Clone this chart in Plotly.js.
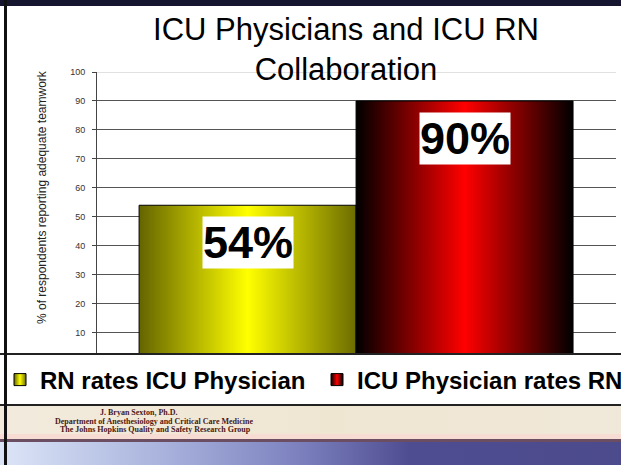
<!DOCTYPE html>
<html><head><meta charset="utf-8">
<script src="https://cdn.plot.ly/plotly-3.0.1.min.js"></script>
<style>
html,body{margin:0;padding:0;width:621px;height:465px;overflow:hidden;background:#fff;}
#wrap{position:relative;width:660px;height:465px;}
.band{position:absolute;left:0;right:0;}
#chart{position:absolute;left:0;top:0;width:660px;height:465px;}
</style></head><body>
<div id="wrap">
 <div class="band" style="top:0;height:6px;background:#15152f"></div>
 <div class="band" style="top:353px;height:2px;background:#222"></div>
 <div class="band" style="top:404px;height:2px;background:#222"></div>
 <div class="band" style="top:406px;height:28px;background:linear-gradient(90deg,#f2eadc,#efe6d2 50%,#f0e8da)"></div>
 <div class="band" style="top:434px;height:5px;background:#f6dcd2"></div>
 <div class="band" style="top:439px;height:3px;background:#6c4e62"></div>
 <div class="band" style="top:442px;height:23px;background:linear-gradient(90deg,#dce5f7 0%,#a8b2dc 25%,#7d82bf 45%,#4f4d92 62%,#4b4a8b 100%)"></div>
 <div style="position:absolute;left:4px;top:0;width:3px;height:465px;background:#111"></div>
 <div id="chart"></div>
</div>
<script>
// ---- data ----
const seriesNames = ['RN rates ICU Physician', 'ICU Physician rates RN'];
const values = [54, 90];
const valueLabels = ['54%', '90%'];
const yTicks = [10, 20, 30, 40, 50, 60, 70, 80, 90, 100];
const yTitle = '% of respondents reporting adequate teamwork';
const chartTitle = 'ICU Physicians and ICU RN<br>Collaboration';
const footerLines = ['J. Bryan Sexton, Ph.D.', 'Department of Anesthesiology and Critical Care Medicine', 'The Johns Hopkins Quality and Safety Research Group'];

const baseColors = ['#e0e000', '#e00000'];
const gradStops = [
  [['0', '#646400'], ['0.5', '#ffff00'], ['1', '#6c6c00']],
  [['0', '#000000'], ['0.5', '#ff0000'], ['1', '#000000']]
];

const W = 660, H = 465;
const ML = 97, MR = 44, MT = 72, MB = 112;
const PW = W - ML - MR, PH = H - MT - MB;

const legendIds = ['legend', 'legend2'];
const traces = seriesNames.map((n, i) => ({
  type: 'bar', x: [n], y: [values[i]], name: n,
  legend: legendIds[i],
  marker: {color: baseColors[i], line: {color: '#000', width: 1}},
  hoverinfo: 'none'
}));

const annotations = seriesNames.map((n, i) => ({
  x: n, y: values[i], xref: 'x', yref: 'y', text: valueLabels[i],
  showarrow: false, yanchor: 'top', yshift: -11,
  font: {size: 45, family: 'Liberation Sans, Arial, sans-serif', weight: 'bold', color: '#000'},
  bgcolor: '#ffffff', borderpad: 0
}));
// y-axis title (placed as rotated annotation to match the original's offset)
annotations.push({
  x: (42 - ML) / PW, y: (H - MB - 197) / PH, xref: 'paper', yref: 'paper',
  text: yTitle, textangle: -90, showarrow: false, xanchor: 'center', yanchor: 'middle',
  font: {size: 12, family: 'Liberation Sans, Arial, sans-serif', color: '#222'}
});
const footerPos = [[139, 412], [154, 421], [155, 429]];
footerLines.forEach((t, i) => {
  annotations.push({
    x: (footerPos[i][0] - ML) / PW, y: (H - MB - footerPos[i][1]) / PH,
    xref: 'paper', yref: 'paper', text: t, showarrow: false,
    xanchor: 'center', yanchor: 'middle',
    font: {size: 8, family: 'Liberation Serif, Times New Roman, serif', weight: 'bold', color: '#4a1818'}
  });
});

const legendBase = {
  orientation: 'h', xref: 'container', yref: 'container',
  xanchor: 'left', y: 1 - 380 / H, yanchor: 'middle',
  bgcolor: 'rgba(0,0,0,0)', borderwidth: 0,
  font: {size: 24, family: 'Liberation Sans, Arial, sans-serif', weight: 'bold', color: '#000'}
};

const layout = {
  width: W, height: H,
  margin: {l: ML, r: MR, t: MT, b: MB, pad: 0, autoexpand: false},
  paper_bgcolor: 'rgba(0,0,0,0)', plot_bgcolor: '#ffffff',
  barmode: 'overlay', bargap: 0,
  showlegend: true,
  title: {
    text: chartTitle, xref: 'container', yref: 'container',
    x: 346 / W, xanchor: 'center', y: 1 - 40 / H, yanchor: 'top',
    font: {size: 31, family: 'Liberation Sans, Arial, sans-serif', color: '#000'}
  },
  xaxis: {
    type: 'category', categoryarray: seriesNames, range: [-0.694, 1.698],
    showticklabels: false, showgrid: false, zeroline: false, showline: false, ticks: ''
  },
  yaxis: {
    range: [3, 100], tickvals: yTicks, ticktext: yTicks.map(String),
    ticks: 'outside', ticklen: 4, tickcolor: '#444', ticklabelstandoff: 5,
    showline: true, linecolor: '#444', linewidth: 1,
    showgrid: true, gridcolor: '#555', gridwidth: 1, zeroline: false,
    tickfont: {size: 9, family: 'Liberation Sans Narrow, Arial Narrow, Liberation Sans, Arial', color: '#333'}
  },
  shapes: [{
    type: 'line', xref: 'paper', yref: 'y', x0: 0, x1: 1,
    y0: yTicks[yTicks.length - 1], y1: yTicks[yTicks.length - 1],
    line: {color: '#c4c4c4', width: 1}, layer: 'below'
  }],
  legend: Object.assign({}, legendBase, {x: 0}),
  legend2: Object.assign({}, legendBase, {x: 317 / W}),
  annotations: annotations
};

Plotly.newPlot('chart', traces, layout, {staticPlot: true, displayModeBar: false}).then(gd => {
  const ns = 'http://www.w3.org/2000/svg';
  const svg = gd.querySelector('svg.main-svg');
  let defs = svg.querySelector('defs');
  if (!defs) { defs = document.createElementNS(ns, 'defs'); svg.insertBefore(defs, svg.firstChild); }
  gradStops.forEach((stops, i) => {
    const g = document.createElementNS(ns, 'linearGradient');
    g.setAttribute('id', 'bargrad' + i);
    g.setAttribute('x1', '0'); g.setAttribute('x2', '1');
    g.setAttribute('y1', '0'); g.setAttribute('y2', '0');
    stops.forEach(([o, c]) => {
      const s = document.createElementNS(ns, 'stop');
      s.setAttribute('offset', o); s.setAttribute('stop-color', c);
      g.appendChild(s);
    });
    defs.appendChild(g);
  });
  gd.querySelectorAll('.barlayer .trace').forEach((t, i) => {
    t.querySelectorAll('path').forEach(p => { p.style.fill = 'url(#bargrad' + i + ')'; });
  });
  gd.querySelectorAll('.infolayer g[class^="legend"]').forEach(lg => {
    const cls = lg.getAttribute('class');
    const i = cls === 'legend2' ? 1 : (cls === 'legend' ? 0 : -1);
    if (i >= 0) lg.querySelectorAll('.legendpoints path').forEach(p => { p.style.fill = 'url(#bargrad' + i + ')'; });
  });
});
</script>
</body></html>
